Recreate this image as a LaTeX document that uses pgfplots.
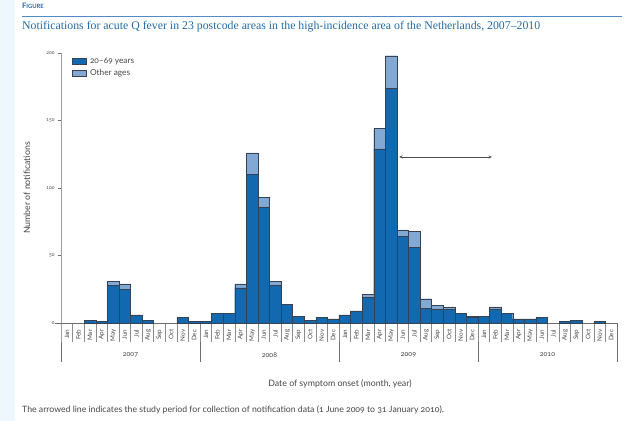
\documentclass[border=0pt]{standalone}
\usepackage{fontspec}
\setmainfont{Lato}[Numbers=OldStyle]
\newfontfamily\titlefont{Liberation Serif}
\usepackage{pgfplots}
\pgfplotsset{compat=1.18}
\definecolor{qdark}{RGB}{18,105,175}
\definecolor{qlight}{RGB}{130,168,212}
\definecolor{barline}{RGB}{55,65,80}
\definecolor{figblue}{RGB}{35,105,165}
\definecolor{rulblue}{RGB}{80,140,195}
\definecolor{strip}{RGB}{238,247,252}
\definecolor{axgray}{RGB}{110,110,110}
\definecolor{txtgray}{RGB}{70,70,70}

\pgfplotstableread{
x dark light
0.5 0 0
1.5 0 0
2.5 2 0
3.5 1 0
4.5 28 3
5.5 25 4
6.5 6 0
7.5 2 0
8.5 0 0
9.5 0 0
10.5 4 0
11.5 1 0
12.5 1 0
13.5 7 0
14.5 7 0
15.5 26 3
16.5 110 16
17.5 86 7
18.5 28 3
19.5 14 0
20.5 5 0
21.5 2 0
22.5 4 0
23.5 3 0
24.5 6 0
25.5 9 0
26.5 19 2
27.5 129 15
28.5 174 24
29.5 64 5
30.5 56 12
31.5 11 7
32.5 10 3
33.5 10 2
34.5 7 0
35.5 4 1
36.5 5 0
37.5 10 2
38.5 7 0
39.5 3 0
40.5 3 0
41.5 4 0
42.5 0 0
43.5 1 0
44.5 2 0
45.5 0 0
46.5 1 0
47.5 0 0
}\qdata

\begin{document}
\begin{tikzpicture}[x=1pt,y=1pt]
\fill[strip] (0,0) rectangle (15,421);
\useasboundingbox (0,0) rectangle (625,421);
\node[anchor=base west, text=figblue, inner sep=0pt, font=\bfseries] at (22,412) {{\fontsize{7.5}{8}\selectfont F}{\fontsize{5.8}{7}\selectfont IGURE}};
\draw[rulblue, line width=0.9pt] (22,404.5) -- (622,404.5);
\node[anchor=base west, text=figblue, inner sep=0pt, font=\titlefont\fontsize{11.8}{13}\selectfont] at (22,391.5) {Notifications for acute Q fever in 23 postcode areas in the high-incidence area of the Netherlands, 2007\textendash2010};
\node[rotate=90, text=txtgray, font=\fontsize{8.8}{10}\selectfont] at (27,233) {Number of notifications};
\node[text=txtgray, font=\fontsize{8.8}{10}\selectfont] at (340,37) {Date of symptom onset (month, year)};
\node[anchor=base west, inner sep=0pt, text=txtgray, font=\fontsize{8.7}{10}\selectfont] at (22,8) {The arrowed line indicates the study period for collection of notification data (1 June 2009 to 31 January 2010).};
\begin{axis}[
  at={(61pt,98pt)}, anchor=south west,
  scale only axis, width=556pt, height=270pt,
  xmin=0, xmax=48, ymin=0, ymax=200,
  ybar stacked, bar width=1, bar shift=0pt,
  axis line style={draw=none},
  clip=false,
  xtick={0.5,1.5,...,47.5},
  xticklabels={Jan,Feb,Mar,Apr,May,Jun,Jul,Aug,Sep,Oct,Nov,Dec,Jan,Feb,Mar,Apr,May,Jun,Jul,Aug,Sep,Oct,Nov,Dec,Jan,Feb,Mar,Apr,May,Jun,Jul,Aug,Sep,Oct,Nov,Dec,Jan,Feb,Mar,Apr,May,Jun,Jul,Aug,Sep,Oct,Nov,Dec},
  xtick style={draw=none},
  xticklabel style={rotate=90, anchor=east, inner sep=0pt, text=txtgray, font=\fontsize{6.3}{6}\selectfont},
  xticklabel shift=3.5pt,
  ytick={0,50,100,150,200},
  ytick pos=left, tick align=outside, major tick length=3pt,
  ytick style={axgray, line width=0.4pt},
  yticklabel style={text=txtgray, font=\fontsize{5}{5}\selectfont},
  /pgf/number format/assume math mode=true,
  legend style={at={(0.017,0.995)}, anchor=north west, draw=none, fill=none, font=\fontsize{8.3}{9}\selectfont, text=txtgray, row sep=1pt, inner sep=1pt},
  legend cell align=left,
  legend image code/.code={\fill[#1] (0pt,-3pt) rectangle (14pt,3pt);},
]
\addplot[fill=qdark, draw=barline, line width=0.35pt] table[x=x, y=dark] {\qdata};
\addplot[fill=qlight, draw=barline, line width=0.35pt] table[x=x, y=light] {\qdata};
\legend{\hspace{2pt}20\textendash69 years, \hspace{2pt}Other ages}
\draw[axgray, line width=0.5pt] (axis cs:0,200) -- (axis cs:0,0) -- ++(0,-39pt);
\draw[axgray, line width=0.5pt] ([xshift=-6pt]axis cs:0,0) -- (axis cs:48,0);
\pgfplotsinvokeforeach{1,...,47}{\draw[axgray!80, line width=0.4pt] (axis cs:#1,0) -- ++(0,-19pt);}
\pgfplotsinvokeforeach{12,24,36,48}{\draw[axgray, line width=0.5pt] (axis cs:#1,0) -- ++(0,-39pt);}
\node[text=txtgray, font=\fontsize{7}{8}\selectfont] at ([yshift=-32pt]axis cs:6,0) {2007};
\node[text=txtgray, font=\fontsize{7}{8}\selectfont] at ([yshift=-32pt]axis cs:18,0) {2008};
\node[text=txtgray, font=\fontsize{7}{8}\selectfont] at ([yshift=-32pt]axis cs:30,0) {2009};
\node[text=txtgray, font=\fontsize{7}{8}\selectfont] at ([yshift=-32pt]axis cs:42,0) {2010};
\draw[<->, >=stealth, black!70, line width=0.5pt] (axis cs:29.2,123) -- (axis cs:37.2,123);
\end{axis}
\end{tikzpicture}
\end{document}
